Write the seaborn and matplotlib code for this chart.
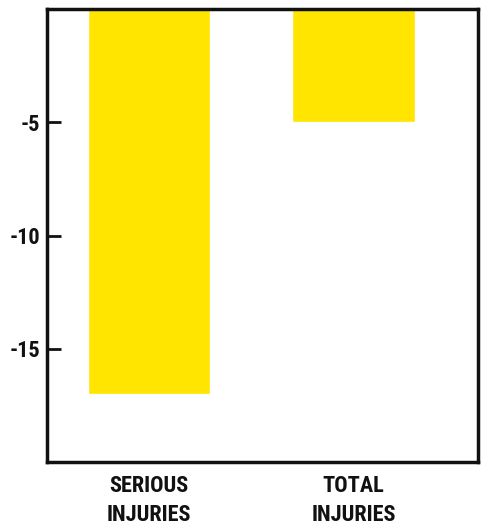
import matplotlib
matplotlib.use("Agg")
import matplotlib.pyplot as plt
import seaborn as sns
import pandas as pd
from matplotlib import font_manager

categories = ["SERIOUS\nINJURIES", "TOTAL\nINJURIES"]
values = [-17, -5]
yticks = [-5, -10, -15]

sns.set_theme(style="white")
names = {f.name for f in font_manager.fontManager.ttflist}
fam = "DejaVu Sans"
for cand in ["Roboto Condensed", "Archivo Narrow", "Asap Condensed", "Barlow Semi Condensed", "Liberation Sans Narrow"]:
    if cand in names:
        fam = cand
        break
plt.rcParams["font.family"] = [fam, "DejaVu Sans"]

df = pd.DataFrame({"cat": categories, "val": values})
fig = plt.figure(figsize=(4.83, 5.25), dpi=100)
ax = fig.add_axes([47/483, 1-462/525, (478-47)/483, (462-9)/525])
sns.barplot(data=df, x="cat", y="val", color="#FFE500", saturation=1, width=0.6, ax=ax)
ax.set_ylim(-20, 0)
ax.set_xlim(-0.5, 1.61)
ax.set_yticks(yticks)
ax.set_yticklabels([str(t) for t in yticks], fontsize=16, fontweight="bold", color="#111111")
ax.tick_params(axis="y", direction="in", length=10, width=2, color="#111111", pad=5, left=True)
ax.tick_params(axis="x", length=0, pad=9)
for lab in ax.get_xticklabels():
    lab.set_fontsize(16)
    lab.set_fontweight("bold")
    lab.set_color("#111111")
    lab.set_linespacing(1.45)
ax.set_xlabel("")
ax.set_ylabel("")
for s in ax.spines.values():
    s.set_visible(True)
    s.set_linewidth(2.5)
    s.set_color("#111111")
fig.savefig("out.png", dpi=100)
